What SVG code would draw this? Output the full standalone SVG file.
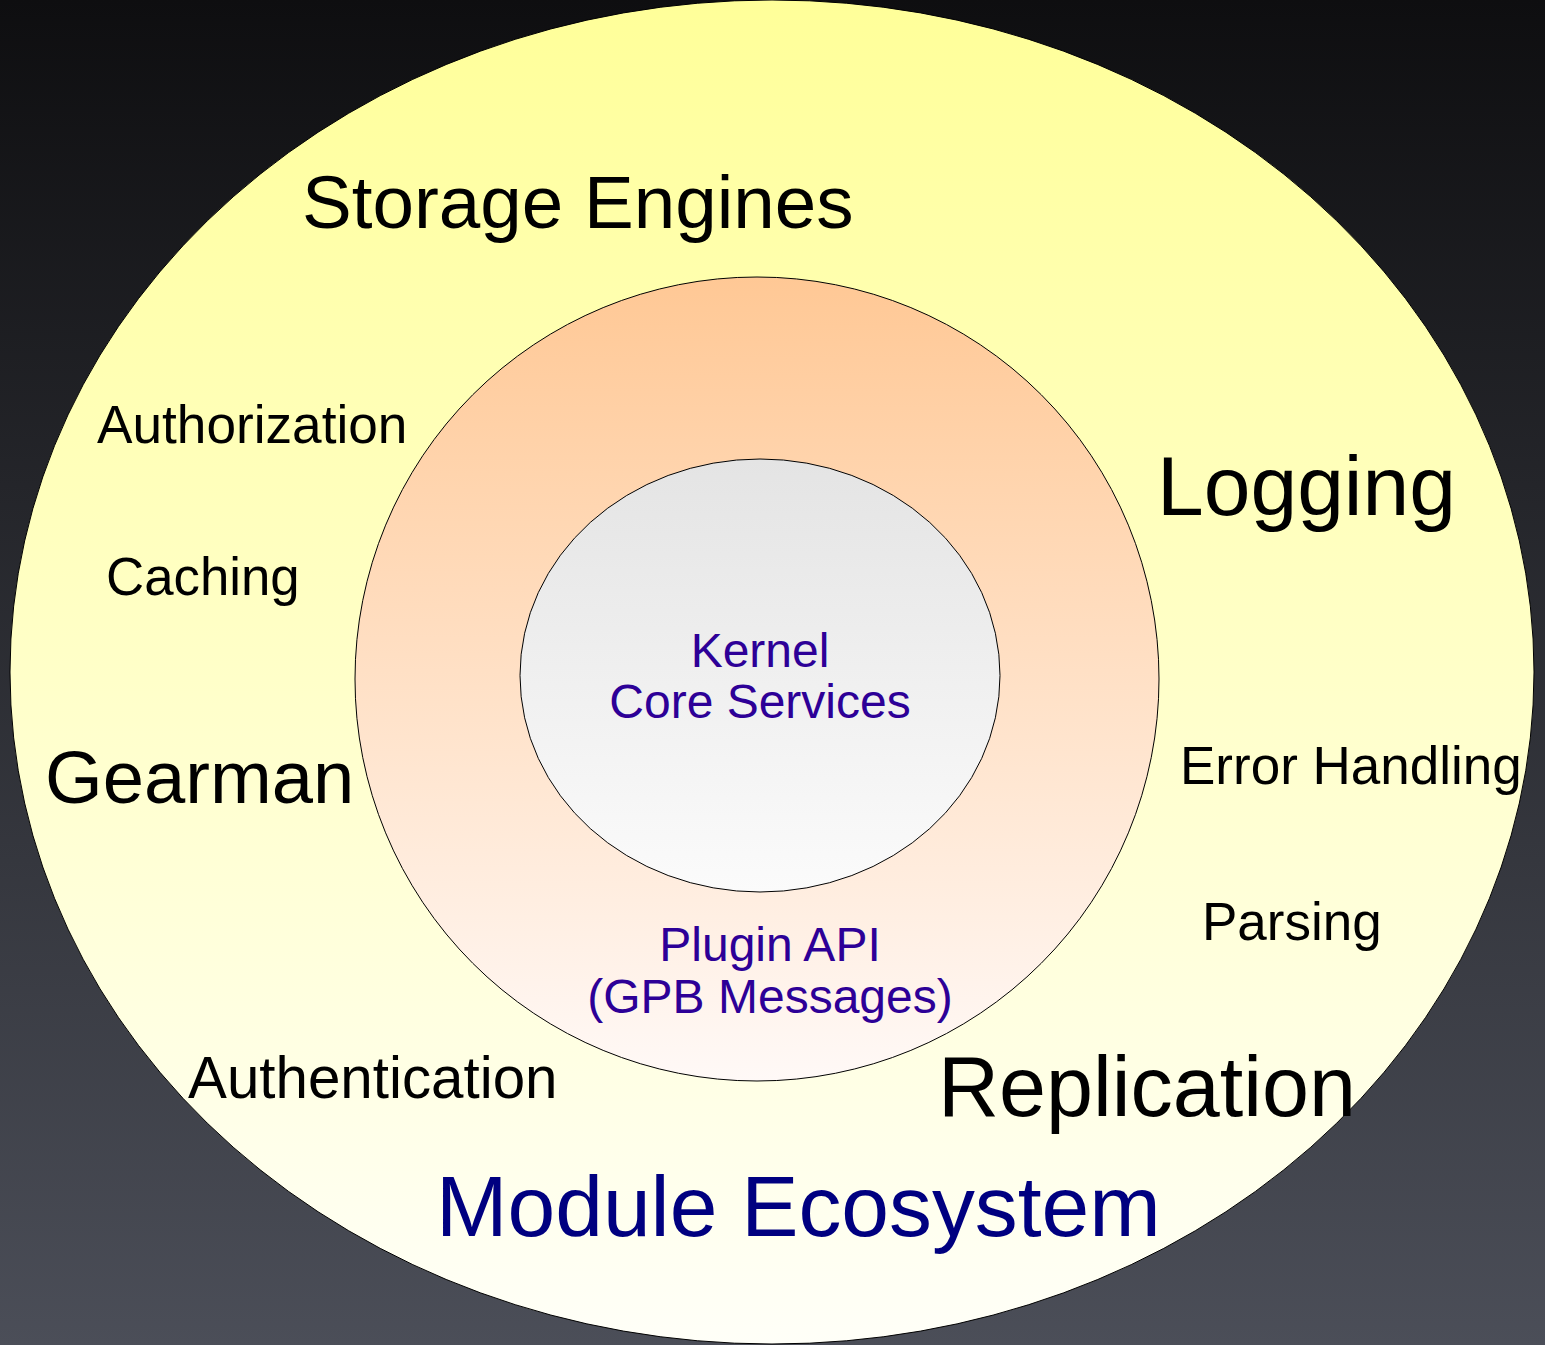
<svg xmlns="http://www.w3.org/2000/svg" width="1545" height="1345" viewBox="0 0 1545 1345">
<defs>
<linearGradient id="bg" x1="0" y1="0" x2="0" y2="1">
<stop offset="0" stop-color="#0e0e10"/>
<stop offset="1" stop-color="#4b4e58"/>
</linearGradient>
<linearGradient id="gOuter" x1="0" y1="0" x2="0" y2="1">
<stop offset="0" stop-color="#ffff99"/>
<stop offset="1" stop-color="#fffff8"/>
</linearGradient>
<linearGradient id="gMid" x1="0" y1="0" x2="0" y2="1">
<stop offset="0" stop-color="#ffc895"/>
<stop offset="1" stop-color="#fff9f7"/>
</linearGradient>
<linearGradient id="gInner" x1="0" y1="0" x2="0" y2="1">
<stop offset="0" stop-color="#e4e4e4"/>
<stop offset="1" stop-color="#fbfbfb"/>
</linearGradient>
<style>
.ring{stroke:#000;stroke-width:1}
text{font-family:"Liberation Sans",Arial,sans-serif}
.blk{fill:#000}
.core{fill:#2d0097;text-anchor:middle;font-size:48px}
</style>
</defs>
<rect width="1545" height="1345" fill="url(#bg)"/>
<g id="module-ecosystem">
<ellipse class="ring" cx="772" cy="672" rx="762" ry="672" fill="url(#gOuter)"/>
<text x="436" y="1236" font-size="85.8" fill="#000080">Module Ecosystem</text>
</g>
<g id="plugin-api">
<circle class="ring" cx="757" cy="679" r="402" fill="url(#gMid)"/>
<text class="core" x="770" y="961">Plugin API</text>
<text class="core" x="770" y="1013">(GPB Messages)</text>
</g>
<g id="kernel">
<ellipse class="ring" cx="760" cy="675.5" rx="240" ry="216.5" fill="url(#gInner)"/>
<text class="core" x="760" y="667">Kernel</text>
<text class="core" x="760" y="718">Core Services</text>
</g>
<g id="storage-engines"><text class="blk" x="302" y="228" font-size="74.6">Storage Engines</text></g>
<g id="authorization"><text class="blk" x="97" y="443" font-size="53.2">Authorization</text></g>
<g id="caching"><text class="blk" x="106" y="595" font-size="52.8">Caching</text></g>
<g id="logging"><text class="blk" x="1157" y="515" font-size="84">Logging</text></g>
<g id="gearman"><text class="blk" x="45" y="803" font-size="74.2">Gearman</text></g>
<g id="error-handling"><text class="blk" x="1180" y="784" font-size="53">Error Handling</text></g>
<g id="parsing"><text class="blk" x="1202" y="940" font-size="53">Parsing</text></g>
<g id="authentication"><text class="blk" x="188" y="1098" font-size="58.3">Authentication</text></g>
<g id="replication"><text class="blk" x="938" y="1116" font-size="84.5">Replication</text></g>
<g id="connectors"/>
</svg>
